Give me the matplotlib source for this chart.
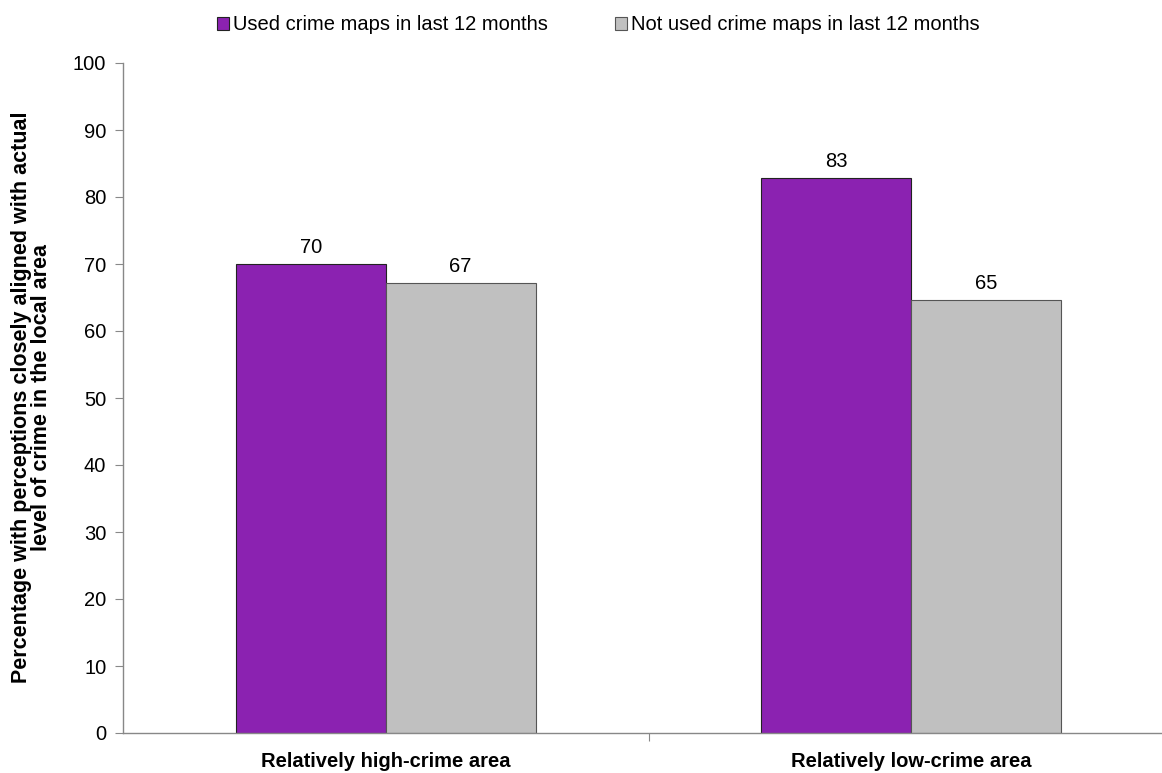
import numpy as np
import matplotlib
matplotlib.use("Agg")
from matplotlib import pyplot as plt

plt.rcParams['font.family'] = ['Liberation Sans', 'DejaVu Sans']

categories = ['Relatively high-crime area', 'Relatively low-crime area']
series_names = ['Used crime maps in last 12 months', 'Not used crime maps in last 12 months']
used = [70.0, 82.9]
not_used = [67.1, 64.6]
colors = ['#8B22B1', '#C0C0C0']
edges = ['#222222', '#555555']

fig = plt.figure(figsize=(11.62, 7.73), dpi=100)
# plot area runs off the right edge, like the source
ax = fig.add_axes([123 / 1162, 40 / 773, 1051 / 1162, 670 / 773])

x = np.arange(len(categories))
w = 0.285
b1 = ax.bar(x - w / 2, used, w, color=colors[0], edgecolor=edges[0], linewidth=0.8, label=series_names[0])
b2 = ax.bar(x + w / 2, not_used, w, color=colors[1], edgecolor=edges[1], linewidth=0.8, label=series_names[1])
for bars in (b1, b2):
    ax.bar_label(bars, fmt='%.0f', padding=5, fontsize=14.5)

ax.set_xlim(-0.5, 1.5)
ax.set_ylim(0, 100)
ax.set_yticks(np.arange(0, 101, 10))
ax.set_xticks([0.5])
ax.set_xticklabels([''])
for i, c in enumerate(categories):
    ax.text(i, -2.8, c, ha='center', va='top', fontsize=14.5, fontweight='bold')

for s in ['top', 'right']:
    ax.spines[s].set_visible(False)
for s in ['left', 'bottom']:
    ax.spines[s].set_color('#888888')
    ax.spines[s].set_linewidth(1.0)
ax.tick_params(axis='y', direction='out', length=6, color='#888888', labelsize=14.5, pad=6)
ax.tick_params(axis='x', direction='out', length=6, color='#888888')

fig.text(0.027, 0.486, 'Percentage with perceptions closely aligned with actual\nlevel of crime in the local area',
         rotation=90, ha='center', va='center', fontsize=15.5, fontweight='bold', linespacing=0.95)

fig.legend(handles=[b1, b2], loc='center', bbox_to_anchor=(0.515, 0.968), ncol=2, frameon=False,
           fontsize=14.5, handlelength=0.6, handleheight=0.6, handletextpad=0.2, columnspacing=3.3)

fig.savefig('out.png', dpi=100)
